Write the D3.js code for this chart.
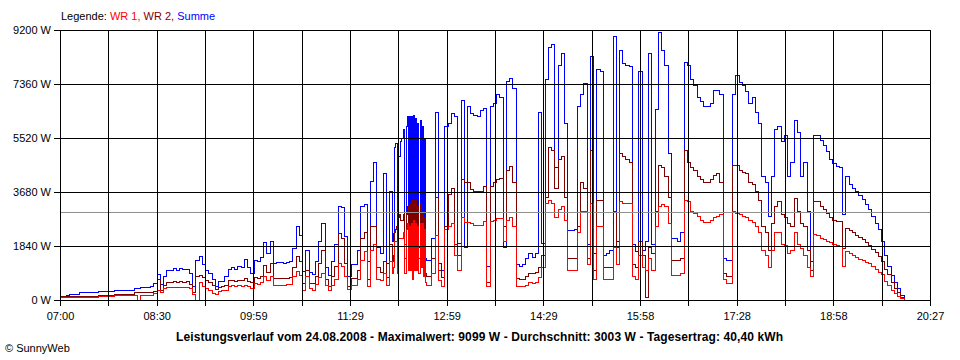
<!DOCTYPE html>
<html><head><meta charset="utf-8">
<script src="https://cdn.jsdelivr.net/npm/d3@7"></script>
<style>
body{margin:0;background:#fff;}
svg{display:block;}
text{font-family:"Liberation Sans",Arial,sans-serif;font-size:11px;fill:#000;}
</style>
</head><body>
<svg id="chart" width="960" height="360"></svg>
<script>
// ---- data ----
const startTime = "07:00";
const endTime = "20:27";
// sampling segments (start time, minutes between samples, number of samples)
const segStarts = ["07:00", "12:06", "12:42"];
const segSteps  = [3, 1, 3];
const segCounts = [102, 36, 148];
const xTickLabels = ["07:00","08:30","09:59","11:29","12:59","14:29","15:58","17:28","18:58","20:27"];
const yTicks = [0,1840,3680,5520,7360,9200];
const seriesNames = ["WR 1","WR 2","Summe"];
const averageW = 3003;
const titleText = "Leistungsverlauf vom 24.08.2008 - Maximalwert: 9099 W - Durchschnitt: 3003 W - Tagesertrag: 40,40 kWh";
const footerText = "\u00A9 SunnyWeb";

const summe = [110,110,160,200,200,200,240,240,240,240,
240,240,280,280,280,280,280,330,330,330,
330,330,330,400,380,420,430,430,450,570,
880,520,800,1020,1000,1060,1000,1060,1040,1050,
900,450,1350,1475,1200,1000,900,700,470,620,
620,800,1050,1100,1050,1150,1100,1380,1100,920,
1350,1300,1450,1950,1600,1990,1250,1270,1270,1250,
1280,1300,1770,2500,2200,965,1700,950,880,1300,
2000,2600,1100,850,1300,1900,3200,3150,2160,800,
1200,1200,1700,3180,3240,1300,4030,4700,1800,1600,
4300,1250,
3700,3700,2000,2270,5200,5340,5340,2000,4900,4900,5400,5500,5500,5800,1900,5900,6250,1900,
6250,2000,6250,1250,6300,1900,6200,2000,6000,1800,6100,2200,5900,1700,5500,1400,1350,1350,
1350,2100,6400,1250,1020,5900,
6000,6350,6250,1930,6800,1800,6600,6350,6300,6250,
6450,6530,1130,6600,6700,7000,6900,1800,7450,7550,
7200,1200,1150,1200,1400,1600,1450,1600,6400,1930,
7500,8600,8700,4500,8000,8400,6000,2380,2380,2400,
6600,7000,7380,1900,8290,1600,7850,7800,1500,1600,
1700,8990,2000,8500,8050,8000,7950,1900,1650,7800,
1700,2000,8400,1900,6500,9099,8500,8000,5000,2100,
2100,2000,2300,8100,8000,7500,7300,6900,6750,6600,
6600,6700,7150,7150,7000,1400,1360,1360,7000,7650,
7400,7300,7100,6700,6900,6400,6000,4200,4000,2840,
4200,5800,5900,5400,5600,4200,4700,6100,5700,4200,
4700,3000,1300,5600,5600,5450,5250,5050,4800,4650,
4550,4500,2900,4200,3950,3800,3700,3550,3430,3250,
3100,2850,2600,2400,2000,1500,1150,850,600,380,
150,0];

const wr2 = [120,130,130,130,130,130,130,130,130,130,
130,130,170,170,170,170,170,200,200,200,
200,200,200,240,240,240,240,240,240,300,
700,330,500,590,610,640,590,630,610,620,
520,250,800,850,750,650,580,480,370,420,
450,480,650,650,620,680,650,720,640,600,
780,740,800,1190,950,1250,740,740,740,740,
740,760,1100,1475,1300,570,1020,570,560,800,
1250,1700,700,450,800,1150,2250,2100,1250,450,
740,740,1000,2100,2290,700,2500,2500,1100,950,
1300,750,
1900,1900,1300,1500,2300,2400,2500,1300,2800,2900,2700,2700,2700,2900,1400,2900,3200,1500,
3300,1400,3400,1000,3400,1500,3400,1500,3200,1400,3300,1600,3000,1200,2800,900,800,800,
800,1400,3500,1000,750,2500,
3600,3800,1900,1500,4100,4000,4000,3750,3700,3700,
3700,3860,600,3860,4000,4100,4150,2500,4400,4540,
4000,720,700,700,800,900,900,950,1100,1500,
3500,5200,5100,3800,4800,4900,3500,1400,1400,1400,
2500,4000,3800,1400,5100,1000,3400,3400,1100,1100,
1100,3000,1800,5000,4900,4800,4700,1200,1100,2000,
1500,100,1800,1600,3000,4600,4500,4200,3500,1350,
1350,1350,1400,5100,4700,4500,4400,4200,4100,4000,
4000,4100,4250,4300,4000,900,800,800,4600,4600,
4400,4350,4300,4000,3950,3700,3400,2500,2300,1700,
2600,3200,3350,2900,2800,2600,2500,3450,3000,2600,
2500,1700,1000,3350,3350,3200,3100,2950,2800,2700,
2680,2670,1750,2430,2380,2300,2200,2120,2050,1950,
1850,1720,1620,1480,1300,1050,870,600,400,250,
100,0];

const wr1 = [100,100,100,100,100,100,100,100,100,100,
100,100,110,110,110,110,110,150,150,150,
150,150,150,150,0,170,170,170,170,230,
340,250,400,430,430,440,420,440,430,430,
380,200,0,590,470,380,320,230,200,300,
340,340,460,480,450,480,460,500,460,400,
560,540,600,800,650,800,510,510,510,500,
520,530,800,965,850,340,800,380,340,520,
780,910,480,310,500,700,1250,1150,800,350,
480,480,700,1350,1650,450,1700,1900,700,650,
900,480,
1300,1300,900,1100,2000,2000,2000,900,2100,2100,2100,2100,2100,2300,900,2400,2600,1000,
2500,1000,2600,700,2700,1000,2600,1000,2500,900,2600,1100,2600,800,2400,600,500,500,
500,900,2200,650,450,2400,
2500,2600,1500,1000,2800,2650,2650,2600,2550,2550,
2550,2670,450,2670,2700,2780,2780,2000,2700,2800,
2500,450,450,450,500,600,570,600,750,1100,
3300,3400,3300,2800,3100,3200,2700,1000,1000,1000,
2300,3000,3000,1200,3300,700,2500,2500,700,700,
700,1800,1200,3350,3300,3300,3300,800,700,1500,
1100,1000,1400,1000,2500,3200,3250,3200,2600,820,
820,820,900,3400,3350,3000,2950,2850,2700,2650,
2650,2700,2800,2850,2900,700,570,570,3000,2950,
2900,2850,2800,2700,2650,2500,2300,1700,1500,1100,
1700,2300,2300,1900,1850,1600,1700,2300,1900,1750,
1500,1100,800,2230,2200,2100,2050,2000,1950,1900,
1850,1830,1150,1650,1580,1500,1450,1370,1330,1280,
1230,1150,1050,950,880,620,480,330,230,130,
50,0];

const seriesColors = ["#ff0000","#800000","#0000ff"];

// ---- drawing ----
const toMin = s => { const p = s.split(":").map(Number); return p[0]*60 + p[1]; };
const tStart = toMin(startTime), tEnd = toMin(endTime);
const times = segStarts.flatMap((s, k) => d3.range(segCounts[k]).map(i => toMin(s) + i * segSteps[k]));

const L = 60, R = 930, T = 30, B = 300;
const x = d3.scaleLinear().domain([tStart, tEnd]).range([L, R]);
const y = d3.scaleLinear().domain([0, 9200]).range([B, T]);
const svg = d3.select("#chart");
const px = v => Math.round(v) + 0.5;

const lineGen = d3.line()
  .x((d, i) => x(times[i]))
  .y(d => y(d))
  .curve(d3.curveStepAfter);

const series = [
  {name: seriesNames[2], values: summe, color: seriesColors[2]},
  {name: seriesNames[1], values: wr2, color: seriesColors[1]},
  {name: seriesNames[0], values: wr1, color: seriesColors[0]}
];
svg.append("g").selectAll("path").data(series).join("path")
  .attr("d", d => lineGen(d.values))
  .attr("fill", "none")
  .attr("stroke", d => d.color)
  .attr("stroke-width", 1)
  .attr("shape-rendering", "crispEdges");

// average line
svg.append("line")
  .attr("x1", L).attr("x2", R)
  .attr("y1", px(y(averageW))).attr("y2", px(y(averageW)))
  .attr("stroke", "#909090").attr("stroke-width", 1)
  .attr("shape-rendering", "crispEdges");

// grid
const nV = (xTickLabels.length - 1) * 2;
const gridTimes = d3.range(nV + 1).map(i => tStart + i * (tEnd - tStart) / nV);
const grid = svg.append("g").attr("shape-rendering", "crispEdges");
grid.selectAll("line.v").data(gridTimes).join("line")
  .attr("class", "v")
  .attr("x1", d => px(x(d))).attr("x2", d => px(x(d)))
  .attr("y1", T).attr("y2", B + 6)
  .attr("stroke", "#000").attr("stroke-width", 1);
grid.selectAll("line.h").data(yTicks).join("line")
  .attr("class", "h")
  .attr("x1", L - 6).attr("x2", R + 1)
  .attr("y1", d => px(y(d))).attr("y2", d => px(y(d)))
  .attr("stroke", "#000").attr("stroke-width", 1);

// y labels
svg.append("g").selectAll("text").data(yTicks).join("text")
  .attr("x", 51).attr("y", d => y(d) + 4)
  .attr("text-anchor", "end")
  .text(d => d + " W");

// x labels
svg.append("g").selectAll("text").data(xTickLabels).join("text")
  .attr("x", (d, i) => x(gridTimes[i * 2]) + 0.5)
  .attr("y", 320)
  .attr("text-anchor", "middle")
  .text(d => d);

// legend
const leg = svg.append("text").attr("x", 61).attr("y", 20);
leg.append("tspan").text("Legende: ");
leg.append("tspan").style("fill", seriesColors[0]).text(seriesNames[0] + ", ");
leg.append("tspan").style("fill", seriesColors[1]).text(seriesNames[1] + ", ");
leg.append("tspan").style("fill", seriesColors[2]).text(seriesNames[2]);

// title
svg.append("text")
  .attr("x", 176).attr("y", 341)
  .attr("textLength", 607).attr("lengthAdjust", "spacing")
  .style("font-weight", "bold").style("font-size", "12px")
  .text(titleText);

// footer
svg.append("text").attr("x", 5).attr("y", 352).text(footerText);
</script>
</body></html>
